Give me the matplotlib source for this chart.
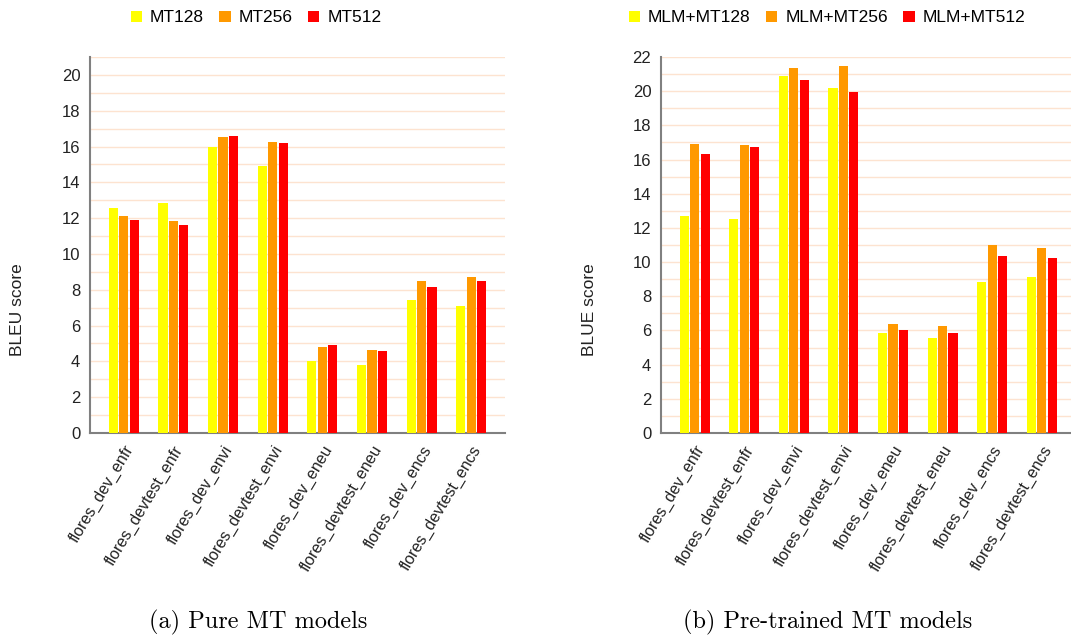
import matplotlib
matplotlib.use("Agg")
import matplotlib.pyplot as plt
import numpy as np
from matplotlib.patches import Patch

plt.rcParams['font.family'] = ['Liberation Sans', 'DejaVu Sans']

categories = ["flores_dev_enfr", "flores_devtest_enfr", "flores_dev_envi", "flores_devtest_envi",
              "flores_dev_eneu", "flores_devtest_eneu", "flores_dev_encs", "flores_devtest_encs"]

left_series = ["MT128", "MT256", "MT512"]
mt128 = [12.56, 12.84, 15.98, 14.94, 4.00, 3.78, 7.42, 7.11]
mt256 = [12.11, 11.83, 16.52, 16.26, 4.78, 4.65, 8.48, 8.74]
mt512 = [11.89, 11.63, 16.60, 16.20, 4.93, 4.56, 8.15, 8.48]

right_series = ["MLM+MT128", "MLM+MT256", "MLM+MT512"]
mlm128 = [12.70, 12.54, 20.87, 20.19, 5.87, 5.58, 8.82, 9.11]
mlm256 = [16.93, 16.85, 21.38, 21.45, 6.40, 6.26, 10.98, 10.84]
mlm512 = [16.33, 16.75, 20.67, 19.95, 6.05, 5.87, 10.36, 10.26]

colors = ["#ffff00", "#ff9900", "#ff0000"]

W, H = 1071, 636
fig = plt.figure(figsize=(W / 100, H / 100), dpi=100)


def px_axes(x0, y0, x1, y1):
    return fig.add_axes([x0 / W, 1 - y1 / H, (x1 - x0) / W, (y1 - y0) / H])


def draw(ax, series_vals, names, ymax, major_top, ylabel, ylabelx, legend_center, caption, caption_x, xmax):
    x = np.arange(len(categories))
    step = 0.21
    bw = 0.185
    for i, (vals, name) in enumerate(zip(series_vals, names)):
        ax.bar(x + (i - 1) * step, vals, width=bw, color=colors[i], label=name, zorder=3)
    ax.set_xlim(-0.68, xmax)
    ax.set_ylim(0, ymax)
    ax.set_yticks(np.arange(0, major_top + 0.01, 2))
    ax.set_yticks(np.arange(0, ymax + 0.01, 1), minor=True)
    ax.grid(axis='y', which='both', color='#fde3d0', linewidth=1, zorder=0)
    ax.set_axisbelow(True)
    for s in ['top', 'right']:
        ax.spines[s].set_visible(False)
    for s in ['left', 'bottom']:
        ax.spines[s].set_color('#808080')
        ax.spines[s].set_linewidth(1.5)
    ax.tick_params(axis='both', which='both', length=0, labelsize=12, colors='#222222', pad=7)
    ax.set_xticks(x)
    ax.set_xticklabels(categories, rotation=59, ha='right', rotation_mode='anchor', fontsize=11.5)
    ax.tick_params(axis='x', pad=7)
    fig.text(ylabelx / W, 1 - 310 / H, ylabel, rotation=90, ha='center', va='center', fontsize=12.5, color='#222222')
    handles = [Patch(facecolor=c, edgecolor='none') for c in colors]
    fig.legend(handles, names, loc='center', bbox_to_anchor=(legend_center / W, 1 - 18 / H),
               ncol=3, frameon=False, fontsize=12.5, handlelength=0.65, handleheight=0.65,
               handletextpad=0.45, columnspacing=0.9)
    fig.text(caption_x / W, 1 - 622 / H, caption, ha='center', va='center', fontsize=17.5,
             family=['cmr10', 'DejaVu Serif'])


ax1 = px_axes(90, 57, 505, 433)
draw(ax1, [mt128, mt256, mt512], left_series, 21, 20, "BLEU score", 18, 256, "(a) Pure MT models", 258, 7.68)

ax2 = px_axes(661, 57, 1071, 433)
draw(ax2, [mlm128, mlm256, mlm512], right_series, 22, 22, "BLUE score", 590, 827, "(b) Pre-trained MT models", 828, 7.59)

fig.savefig("out.png", dpi=100)
